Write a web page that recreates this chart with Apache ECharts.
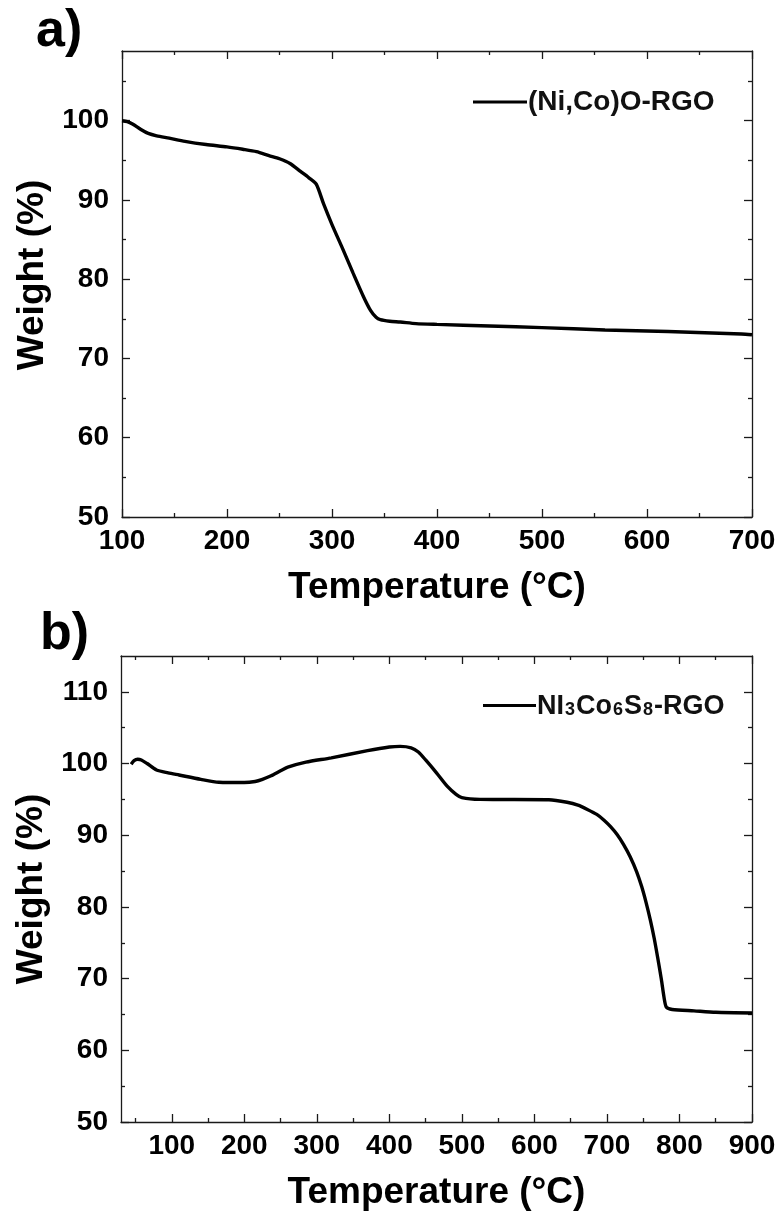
<!DOCTYPE html>
<html>
<head>
<meta charset="utf-8">
<script src="https://cdn.jsdelivr.net/npm/echarts@6/dist/echarts.min.js"></script>
<style>
  html, body { margin: 0; padding: 0; background: #fff; }
  #chart { width: 781px; height: 1218px; }
</style>
</head>
<body>
<div id="chart"></div>
<script>
// TGA curve of (Ni,Co)O-RGO: temperature (°C) and weight (%)
const tempA = [100, 105, 110, 118, 125, 133, 145, 160, 180, 200, 215, 228, 240, 250, 260, 270, 278, 285,
  292, 300, 310, 320, 330, 337, 342, 346, 355, 365, 380, 400, 450, 500, 560, 620, 690, 700];
const weightA = [100.0, 99.9, 99.6, 98.9, 98.4, 98.1, 97.8, 97.4, 97.0, 96.7, 96.4, 96.1, 95.6, 95.2, 94.6, 93.6, 92.8, 92.0,
  89.5, 86.9, 83.9, 80.8, 77.8, 76.0, 75.2, 74.9, 74.7, 74.6, 74.4, 74.3, 74.1, 73.9, 73.6, 73.4, 73.1, 73.0];

// TGA curve of Ni3Co6S8-RGO
const tempB = [44, 48, 53, 58, 66, 79, 95, 110, 140, 165, 200, 215, 225, 237, 250, 260, 285, 320, 370, 400, 415,
  430, 440, 450, 465, 480, 492, 500, 525, 620, 645, 660, 673, 686, 696, 705, 714, 723, 732, 741, 748, 754, 760,
  765, 770, 775, 779, 782, 790, 820, 850, 900];
const weightB = [99.9, 100.4, 100.6, 100.5, 100.0, 99.1, 98.7, 98.4, 97.8, 97.4, 97.35, 97.5, 97.8, 98.3, 99.0, 99.5,
  100.2, 100.8, 101.8, 102.3, 102.4, 102.2, 101.6, 100.5, 98.7, 96.8, 95.7, 95.25, 95.0, 94.95, 94.6, 94.2, 93.6, 92.9,
  92.1, 91.2, 90.1, 88.7, 87.0, 84.9, 82.8, 80.6, 78.1, 75.7, 72.9, 69.9, 67.2, 66.0, 65.7, 65.5, 65.3, 65.2];

// Axis ranges and tick positions
const xRangeA = [100, 700];
const yRangeA = [50, 108.8];
const xMajorA = [100, 200, 300, 400, 500, 600, 700];
const xMinorA = [150, 250, 350, 450, 550, 650];
const yMajorA = [50, 60, 70, 80, 90, 100];
const yMinorA = [55, 65, 75, 85, 95, 105];

const xRangeB = [30, 900];
const yRangeB = [50, 115];
const xMajorB = [100, 200, 300, 400, 500, 600, 700, 800, 900];
const xMinorB = [50, 150, 250, 350, 450, 550, 650, 750, 850];
const yMajorB = [50, 60, 70, 80, 90, 100, 110];
const yMinorB = [55, 65, 75, 85, 95, 105];

const nameA = '(Ni,Co)O-RGO';
const nameB = 'NI3Co6S8-RGO';
const xTitle = 'Temperature (\u00B0C)';
const yTitle = 'Weight (%)';

const FONT = '"Liberation Sans", Arial, Helvetica, sans-serif';
const INK = '#1a1a1a';
const frameLine = { color: INK, width: 1.3 };

// One framed axis: main side (line, major ticks, labels, title), a minor-tick
// overlay, and the mirrored side with the same inward ticks.
function axisSet(gridIndex, range, major, minor, mainPos, mirrorPos, title, titleGap, titlePad) {
  const base = {
    type: 'value', gridIndex, min: range[0], max: range[1],
    splitLine: { show: false }, axisPointer: { show: false }
  };
  const tickMajor = { show: true, inside: true, length: 8, customValues: major, lineStyle: frameLine };
  const tickMinor = { show: true, inside: true, length: 4, customValues: minor, lineStyle: frameLine };
  const noLabel = { show: false };
  return [
    Object.assign({}, base, {
      position: mainPos,
      axisLine: { show: true, onZero: false, lineStyle: frameLine },
      axisTick: tickMajor,
      axisLabel: {
        show: true, customValues: major, inside: false,
        margin: mainPos === 'bottom' ? 10 : 13,
        fontFamily: FONT, fontWeight: 'bold', fontSize: 28, color: '#000'
      },
      name: title, nameLocation: 'middle', nameGap: titleGap,
      nameTextStyle: {
        fontFamily: FONT, fontWeight: 'bold', fontSize: 37, color: '#000',
        padding: titlePad
      }
    }),
    Object.assign({}, base, {
      position: mainPos,
      axisLine: { show: false, onZero: false },
      axisTick: tickMinor, axisLabel: noLabel
    }),
    Object.assign({}, base, {
      position: mirrorPos,
      axisLine: { show: true, onZero: false, lineStyle: frameLine },
      axisTick: tickMajor, axisLabel: noLabel
    }),
    Object.assign({}, base, {
      position: mirrorPos,
      axisLine: { show: false, onZero: false },
      axisTick: tickMinor, axisLabel: noLabel
    })
  ];
}

function zip(xs, ys) { return xs.map((x, i) => [x, ys[i]]); }

const chart = echarts.init(document.getElementById('chart'), null, { renderer: 'canvas' });

const legendText = { fontFamily: FONT, fontWeight: 'bold', color: '#111' };

chart.setOption({
  animation: false,
  backgroundColor: '#fff',
  grid: [
    { left: 122, right: 29, top: 51, height: 466 },
    { left: 121, right: 29, top: 656, height: 466 }
  ],
  xAxis: [].concat(
    axisSet(0, xRangeA, xMajorA, xMinorA, 'bottom', 'top', xTitle, 52, 0),
    axisSet(1, xRangeB, xMajorB, xMinorB, 'bottom', 'top', xTitle, 52, 0)
  ),
  yAxis: [].concat(
    axisSet(0, yRangeA, yMajorA, yMinorA, 'left', 'right', yTitle, 70, [0, 0, 0, 18]),
    axisSet(1, yRangeB, yMajorB, yMinorB, 'left', 'right', yTitle, 70, 0)
  ),
  legend: [
    {
      data: [{ name: nameA, icon: 'rect' }], left: 473, top: 88, itemWidth: 54, itemHeight: 3,
      padding: 0, itemGap: 0, selectedMode: false,
      itemStyle: { color: '#000' },
      textStyle: Object.assign({ fontSize: 28, padding: [2, 0, 0, -4] }, legendText)
    },
    {
      data: [{ name: nameB, icon: 'rect' }], left: 483, top: 693, itemWidth: 53, itemHeight: 3,
      padding: 0, itemGap: 0, selectedMode: false,
      itemStyle: { color: '#000' },
      formatter: () => '{n|NI}{s|3}{n|Co}{s|6}{n|S}{s|8}{n|-RGO}',
      textStyle: Object.assign({
        fontSize: 27,
        padding: [2, 0, 0, -4],
        rich: {
          n: Object.assign({ fontSize: 27 }, legendText),
          s: Object.assign({ fontSize: 18, padding: [8, 1, 0, 1] }, legendText)
        }
      }, legendText)
    }
  ],
  series: [
    {
      name: nameA, type: 'line', xAxisIndex: 0, yAxisIndex: 0,
      data: zip(tempA, weightA), symbol: 'none', smooth: 0.25,
      lineStyle: { color: '#000', width: 3.4 }, itemStyle: { color: '#000' }
    },
    {
      name: nameB, type: 'line', xAxisIndex: 4, yAxisIndex: 4,
      data: zip(tempB, weightB), symbol: 'none', smooth: 0.25,
      lineStyle: { color: '#000', width: 3.4 }, itemStyle: { color: '#000' }
    }
  ],
  graphic: [
    {
      type: 'text', left: 36, top: 6,
      style: { text: 'a)', font: 'bold 52px ' + FONT, fill: '#000' }
    },
    {
      type: 'text', left: 40, top: 609,
      style: { text: 'b)', font: 'bold 52px ' + FONT, fill: '#000' }
    }
  ]
});
</script>
</body>
</html>
